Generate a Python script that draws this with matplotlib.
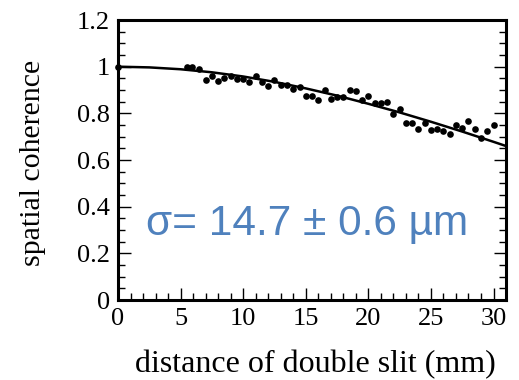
#!/usr/bin/env python
import matplotlib
matplotlib.use('Agg')
import matplotlib.pyplot as plt
from matplotlib.ticker import MultipleLocator

# measured points: distance of double slit (mm) vs spatial coherence
distance = [0, 5.5, 5.9, 6.5, 7.0, 7.5, 8.0, 8.5, 9.0, 9.5, 10.0, 10.5, 11.0,
            11.5, 12.0, 12.5, 13.0, 13.5, 14.0, 14.5, 15.0, 15.5, 16.0, 16.5,
            17.0, 17.5, 18.0, 18.5, 19.0, 19.5, 20.0, 20.5, 21.0, 21.5, 22.0,
            22.5, 23.0, 23.5, 24.0, 24.5, 25.0, 25.5, 26.0, 26.5, 27.0, 27.5,
            28.0, 28.5, 29.0, 29.5, 30.0]
coherence = [1.0, 1.0, 1.0, 0.99, 0.945, 0.96, 0.94, 0.952, 0.958, 0.947,
             0.948, 0.936, 0.96, 0.935, 0.918, 0.943, 0.92, 0.92, 0.904,
             0.911, 0.875, 0.875, 0.858, 0.902, 0.86, 0.871, 0.871, 0.9,
             0.895, 0.857, 0.873, 0.846, 0.845, 0.85, 0.796, 0.819, 0.757,
             0.757, 0.731, 0.757, 0.727, 0.733, 0.725, 0.711, 0.75, 0.739,
             0.768, 0.731, 0.693, 0.724, 0.752]

# fit curve
fit_x = [0, 2.5, 5, 7.5, 10, 12.5, 15, 17.5, 20, 22.5, 25, 27.5, 30, 31]
fit_y = [1.0, 0.997, 0.989, 0.976, 0.958, 0.935, 0.907, 0.876, 0.841,
         0.804, 0.764, 0.722, 0.678, 0.66]

label_text = 'σ= 14.7 ± 0.6 µm'


def main():
    plt.rcParams['font.family'] = ['Liberation Serif', 'DejaVu Serif']
    fig = plt.figure(figsize=(5.19, 3.80), dpi=100)
    ax = fig.add_axes([0.2274, 0.2105, 0.7476, 0.7368])

    ax.plot(fit_x, fit_y, color='black', lw=1.8, zorder=2)
    ax.plot(distance, coherence, 'o', color='black', ms=4.8, mew=0, zorder=3,
            clip_on=False)

    ax.set_xlim(0, 31)
    ax.set_ylim(0, 1.2)
    ax.xaxis.set_major_locator(MultipleLocator(5))
    ax.xaxis.set_minor_locator(MultipleLocator(1))
    ax.yaxis.set_major_locator(MultipleLocator(0.2))
    ax.yaxis.set_minor_locator(MultipleLocator(0.05))
    ax.set_yticks([0, 0.2, 0.4, 0.6, 0.8, 1.0, 1.2])
    ax.set_yticklabels(['0', '0.2', '0.4', '0.6', '0.8', '1', '1.2'])

    ax.tick_params(which='both', direction='in', top=False, right=True,
                   labelsize=19, width=1.0)
    ax.tick_params(which='major', length=9, pad=6)
    ax.tick_params(which='minor', length=5)
    for s in ax.spines.values():
        s.set_linewidth(2.2)

    ax.set_xlabel('distance of double slit (mm)', fontsize=23)
    ax.set_ylabel('spatial coherence', fontsize=21.5)
    ax.xaxis.set_label_coords(0.508, -0.18)
    ax.yaxis.set_label_coords(-0.186, 0.491)

    ax.text(0.488, 0.27, label_text, transform=ax.transAxes, ha='center',
            va='center', fontsize=30.5, color='#4F81BD',
            family=['Liberation Sans', 'DejaVu Sans'])

    fig.savefig('out.png', dpi=100)
    return 0


if __name__ == "__main__":
    main()
